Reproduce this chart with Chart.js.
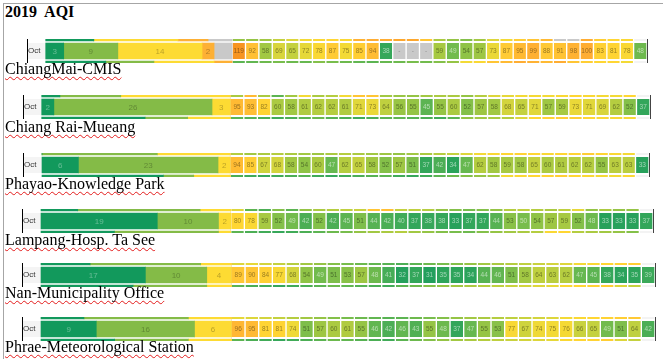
<!DOCTYPE html>
<html><head><meta charset="utf-8">
<script src="https://cdn.jsdelivr.net/npm/chart.js@4.4.1/dist/chart.umd.min.js"></script>
<style>
html,body{margin:0;padding:0;background:#fff}
body{width:663px;height:359px;position:relative;overflow:hidden;font-family:"Liberation Serif","Times New Roman",serif}
.fl{position:absolute;background:#a6a6a6}
.title{position:absolute;left:5px;top:4px;font-size:16px;line-height:16px;font-weight:bold;white-space:pre;color:#000}
.lbl{position:absolute;left:5px;font-size:16px;line-height:16px;white-space:nowrap;color:#000;text-decoration:underline wavy #e31b1b;text-decoration-thickness:1px;text-underline-offset:2px;text-decoration-skip-ink:none}
.win{position:absolute;left:0;width:663px;height:24px;overflow:hidden}
.win canvas{position:absolute;left:0}
</style></head><body>
<div class="fl" style="left:3px;top:3px;width:660px;height:1px"></div>
<div class="fl" style="left:3px;top:3px;width:1px;height:356px"></div>
<div class="title">2019  AQI</div>
<script>
// ---------- data ----------
const months = ['Sep', 'Oct', 'Nov'];
const stations = ['ChiangMai-CMIS', 'Chiang Rai-Mueang', 'Phayao-Knowledge Park',
  'Lampang-Hosp. Ta See', 'Nan-Municipality Office', 'Phrae-Meteorological Station'];
const bands = ['0-49', '50-75', '76-99', '100+', 'No data'];

// days per AQI band [0-49, 50-75, 76-99, 100+, no data]
const daysSep1 = [8, 0, 14, 5, 4],  daysOct1 = [3, 9, 14, 2, 3],  daysNov1 = [10, 8, 10, 3, 0];
const daysSep2 = [3, 10, 18, 0, 0], daysOct2 = [2, 26, 3, 0, 0],  daysNov2 = [17, 7, 7, 0, 0];
const daysSep3 = [0, 19, 12, 0, 0], daysOct3 = [6, 23, 2, 0, 0],  daysNov3 = [20, 5, 6, 0, 0];
const daysSep4 = [6, 20, 5, 0, 0],  daysOct4 = [19, 10, 2, 0, 0], daysNov4 = [12, 17, 2, 0, 0];
const daysSep5 = [8, 18, 5, 0, 0],  daysOct5 = [17, 10, 4, 0, 0], daysNov5 = [15, 12, 4, 0, 0];
const daysSep6 = [7, 17, 7, 0, 0],  daysOct6 = [9, 16, 6, 0, 0],  daysNov6 = [12, 12, 7, 0, 0];

// daily AQI (null = no data)
const aqiOct1 = [119, 92, 58, 69, 65, 72, 78, 87, 75, 85, 94, 38, null, null, null, 59, 49, 54, 57, 73, 87, 95, 99, 88, 91, 98, 100, 83, 81, 78, 48];
const aqiOct2 = [95, 93, 82, 60, 58, 61, 62, 62, 61, 71, 73, 64, 56, 55, 45, 55, 60, 52, 57, 58, 68, 65, 71, 57, 59, 73, 71, 69, 62, 52, 37];
const aqiOct3 = [94, 85, 67, 68, 58, 54, 60, 47, 62, 65, 58, 52, 57, 51, 37, 42, 34, 47, 62, 58, 59, 58, 65, 60, 61, 62, 62, 55, 63, 63, 33];
const aqiOct4 = [80, 78, 59, 52, 49, 42, 52, 42, 45, 51, 44, 42, 40, 37, 38, 38, 33, 37, 37, 44, 53, 50, 54, 57, 59, 52, 48, 33, 33, 33, 37];
const aqiOct5 = [89, 90, 84, 77, 68, 54, 49, 51, 53, 57, 48, 41, 32, 37, 31, 35, 35, 34, 44, 46, 51, 58, 64, 63, 62, 47, 45, 38, 34, 35, 39];
const aqiOct6 = [96, 95, 81, 81, 74, 51, 57, 60, 61, 55, 46, 42, 46, 43, 55, 48, 37, 47, 55, 53, 77, 67, 74, 75, 76, 66, 65, 49, 51, 64, 42];

const aqiSep1 = [55, 55, 58, 65, 70, 75, 78, 80, 78, 98, 100, 100, 105, 105, 90, 60, 55, 52, 58, 70, 75, 85, 90, 95, null, null, 100, 85, 80, 78];
const aqiNov1 = [45, 46, 48, 50, 48, 47, 52, 50, 48, 46, 45, 47, 48, 50, 49, 52, 55, 75, 78, 90, 95, 100, 98, 95, 100, 90, 85, 80, 80, 75];
const aqiSep2 = [60, 95, 60, 45, 58, 75, 60, 62, 75, 90, 90, 58, 56, 55, 58, 60, 60, 55, 62, 70, 72, 75, 76, 75, 78, 80, 78, 76, 75, 80];
const aqiNov2 = [45, 44, 42, 40, 42, 45, 48, 44, 42, 40, 42, 45, 46, 44, 42, 40, 45, 55, 58, 60, 62, 70, 80, 82, 85, 85, 80, 78, 77, 76];
const aqiSep3 = [62, 58, 60, 62, 60, 58, 57, 60, 62, 60, 58, 57, 55, 58, 60, 62, 65, 70, 75, 78, 80, 82, 80, 78, 80, 82, 85, 80, 78, 76];
const aqiNov3 = [42, 40, 38, 40, 42, 44, 40, 38, 40, 42, 44, 45, 40, 38, 40, 45, 48, 52, 55, 58, 75, 78, 80, 82, 85, 80, 78, 76, 75, 78];
const aqiSep4 = [70, 45, 42, 52, 45, 55, 60, 62, 64, 66, 90, 92, 65, 64, 62, 55, 52, 50, 52, 55, 62, 64, 62, 60, 64, 72, 55, 60, 55, 55];
const aqiNov4 = [45, 42, 40, 38, 40, 42, 45, 48, 50, 55, 58, 60, 62, 58, 55, 52, 50, 48, 52, 55, 58, 60, 62, 78, 80, 62, 60, 58, 55, 52];
const aqiSep5 = [70, 72, 68, 65, 62, 58, 55, 52, 50, 48, 46, 44, 42, 45, 48, 50, 52, 55, 58, 60, 62, 64, 66, 68, 70, 75, 78, 80, 82, 85];
const aqiNov5 = [45, 42, 40, 38, 40, 42, 45, 48, 46, 44, 42, 40, 45, 48, 52, 55, 58, 60, 62, 64, 66, 68, 70, 72, 78, 80, 82, 85, 70, 65];
const aqiSep6 = [72, 70, 68, 65, 62, 58, 55, 52, 50, 48, 46, 44, 45, 48, 50, 52, 55, 58, 60, 62, 64, 66, 68, 70, 75, 78, 80, 82, 85, 88];
const aqiNov6 = [45, 42, 40, 38, 40, 42, 45, 48, 46, 44, 42, 40, 45, 48, 52, 55, 58, 60, 62, 64, 66, 68, 70, 72, 78, 80, 82, 85, 70, 65];

// ---------- styles ----------
const BAND_COLORS = ['#12995c', '#84bb47', '#fddb33', '#fdb035', '#c9c9c9'];
const BAND_TEXT = ['rgba(255,255,255,0.35)', 'rgba(0,0,0,0.28)', 'rgba(0,0,0,0.28)', 'rgba(0,0,0,0.3)', null];
const STOPS = [[30, '#1f9e5c'], [38, '#36a75a'], [45, '#5cb452'], [50, '#78bd4c'], [55, '#95c445'],
  [60, '#abca41'], [65, '#c4d13f'], [70, '#ddd63b'], [75, '#f3da36'], [80, '#ffd633'],
  [88, '#ffc935'], [95, '#ffba33'], [100, '#ffad33'], [120, '#f7931f']];
const NO_DATA = '#c9c9c9', NO_DAY = '#f3f3f3';
const CELL = 69 / 31;          // width of one daily cell in axis units
const LAYOUT = [
  {center: 51,    axis: 27, start: 45.7, right: 647, base: 74},
  {center: 106.5, axis: 23, start: 41.7, right: 650, base: 132},
  {center: 164.5, axis: 23, start: 42,   right: 649, base: 189},
  {center: 221,   axis: 22, start: 41,   right: 653, base: 245},
  {center: 274.5, axis: 22, start: 41,   right: 655, base: 298},
  {center: 328.5, axis: 22, start: 41,   right: 655, base: 352}
];

function hex(c) { return [1, 3, 5].map(i => parseInt(c.substr(i, 2), 16)); }
function aqiColor(v) {
  if (v === undefined) return NO_DAY;
  if (v === null) return NO_DATA;
  if (v <= STOPS[0][0]) return STOPS[0][1];
  for (let i = 1; i < STOPS.length; i++) {
    if (v <= STOPS[i][0]) {
      const [a, ca] = STOPS[i - 1], [b, cb] = STOPS[i];
      const t = (v - a) / (b - a), A = hex(ca), B = hex(cb);
      return 'rgb(' + A.map((x, k) => Math.round(x + (B[k] - x) * t)).join(',') + ')';
    }
  }
  return STOPS[STOPS.length - 1][1];
}

const labelPlugin = {
  id: 'aqiLabels',
  beforeDraw(chart) {
    const {ctx, chartArea: a} = chart;
    const y = chart.scales.y.getPixelForValue(1), x0 = chart.scales.x.getPixelForValue(0);
    ctx.save(); ctx.fillStyle = '#f4f4f4';
    ctx.fillRect(a.left + 1, y - 8, x0 - a.left - 1, 16); ctx.restore();
  },
  afterDatasetsDraw(chart) {
    const {ctx} = chart;
    ctx.save();
    ctx.textAlign = 'center'; ctx.textBaseline = 'middle';
    chart.data.datasets.forEach((ds, di) => {
      const el = chart.getDatasetMeta(di).data[1];
      if (!el) return;
      const cx = (el.x + el.base) / 2, cy = el.y + 0.5;
      if (ds.kind === 'band') {
        const n = ds.data[1]; if (!n || !ds.textColor) return;
        ctx.font = '8px "Liberation Sans", Arial, sans-serif';
        ctx.fillStyle = ds.textColor;
        ctx.fillText(String(n), cx, cy);
      } else {
        const v = ds.values[1];
        if (v === undefined) return;
        ctx.font = '6.5px "Liberation Sans", Arial, sans-serif';
        ctx.fillStyle = v === null ? 'rgba(0,0,0,0.3)' : (v <= 50 ? 'rgba(255,255,255,0.55)' : 'rgba(0,0,0,0.42)');
        ctx.fillText(v === null ? '-' : String(v), cx, cy);
      }
    });
    ctx.restore();
  },
  afterDraw(chart) {
    const {ctx, chartArea: a} = chart;
    ctx.save(); ctx.strokeStyle = '#444'; ctx.lineWidth = 1;
    const x = Math.round(a.right) + 0.5;
    ctx.beginPath(); ctx.moveTo(x, a.top); ctx.lineTo(x, a.bottom); ctx.stroke(); ctx.restore();
  }
};

const rowData = [
  [daysSep1, daysOct1, daysNov1, aqiSep1, aqiOct1, aqiNov1],
  [daysSep2, daysOct2, daysNov2, aqiSep2, aqiOct2, aqiNov2],
  [daysSep3, daysOct3, daysNov3, aqiSep3, aqiOct3, aqiNov3],
  [daysSep4, daysOct4, daysNov4, aqiSep4, aqiOct4, aqiNov4],
  [daysSep5, daysOct5, daysNov5, aqiSep5, aqiOct5, aqiNov5],
  [daysSep6, daysOct6, daysNov6, aqiSep6, aqiOct6, aqiNov6]
];

stations.forEach((name, r) => {
  const L = LAYOUT[r];
  const [dS, dO, dN, vS, vO, vN] = rowData[r];
  const win = document.createElement('div');
  win.className = 'win'; win.style.top = (L.center - 12) + 'px';
  const cv = document.createElement('canvas');
  cv.width = 663; cv.height = 54; cv.style.top = '-15px';
  win.appendChild(cv); document.body.appendChild(win);

  const lbl = document.createElement('div');
  lbl.className = 'lbl'; lbl.textContent = name; lbl.style.top = (L.base - 13.4) + 'px';
  document.body.appendChild(lbl);

  const datasets = [];
  bands.forEach((b, k) => datasets.push({
    label: b, kind: 'band', data: [dS[k], dO[k], dN[k]],
    backgroundColor: BAND_COLORS[k], textColor: BAND_TEXT[k], borderWidth: 0
  }));
  for (let d = 0; d < 31; d++) {
    const vals = [vS[d], vO[d], vN[d]];
    datasets.push({
      label: 'Day ' + (d + 1), kind: 'day', values: vals,
      data: [CELL, CELL, CELL],
      backgroundColor: vals.map(aqiColor),
      borderColor: '#ffffff', borderWidth: {left: 1, right: 1, top: 0, bottom: 0}, borderSkipped: false
    });
  }
  const minX = -100 * (L.start - L.axis) / (L.right - L.start);
  new Chart(cv, {
    type: 'bar',
    data: {labels: months, datasets},
    options: {
      indexAxis: 'y', responsive: false, animation: false, devicePixelRatio: 1,
      layout: {padding: {left: L.axis, right: 663 - L.right, top: 0, bottom: 0}},
      plugins: {legend: {display: false}, tooltip: {enabled: false}},
      datasets: {bar: {barThickness: 16, categoryPercentage: 1, barPercentage: 1}},
      scales: {
        x: {type: 'linear', stacked: true, min: minX, max: 100, display: false},
        y: {type: 'category', stacked: true, offset: true,
            grid: {display: false}, border: {display: true, color: '#000', width: 1},
            ticks: {mirror: true, padding: 1, color: '#333', font: {size: 8, family: '"Liberation Sans", Arial, sans-serif'}},
            afterFit(s) { s.width = 0; s.paddingTop = 0; s.paddingBottom = 0; }}
      }
    },
    plugins: [labelPlugin]
  });
});
</script>
</body></html>
